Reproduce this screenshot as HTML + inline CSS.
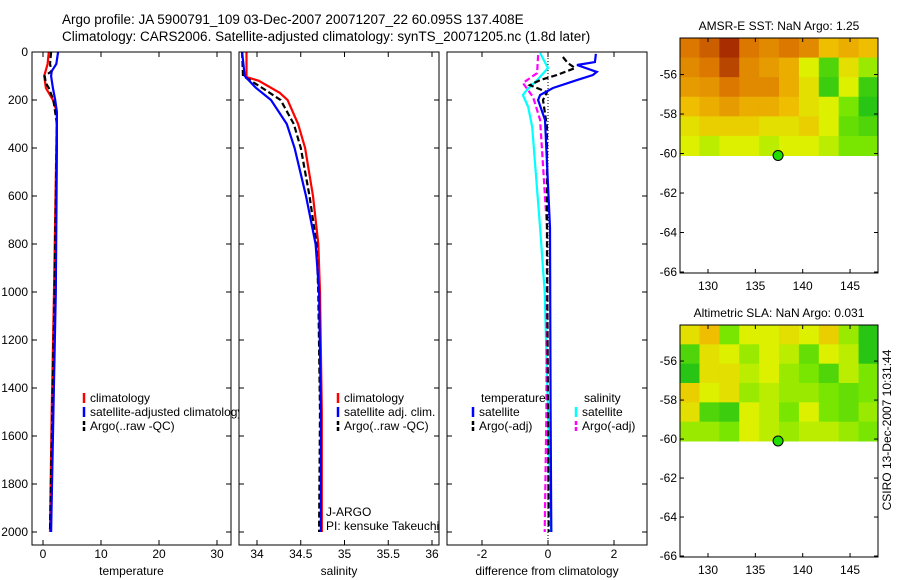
<!DOCTYPE html>
<html><head><meta charset="utf-8"><style>
body{margin:0;background:#fff}
svg{display:block;font-family:"Liberation Sans",sans-serif}
</style></head><body>
<svg id="c" width="900" height="580" viewBox="0 0 900 580" xmlns="http://www.w3.org/2000/svg"></svg>
<script>
// ---- data ----
const depthTicks=[0,200,400,600,800,1000,1200,1400,1600,1800,2000];
const tempTicks=[0,10,20,30];
const salTicks=[34,34.5,35,35.5,36];
const salTickLabels=["34","34.5","35","35.5","36"];
const diffTicks=[-2,0,2];
const tClimD=[0,50,100,150,200,250,400,1000,1500,2000];
const tClimV=[1.0,0.8,0.2,0.5,1.7,2.4,2.3,1.9,1.5,1.2];
const tSatD=[0,50,80,100,150,200,250,400,1000,1500,2000];
const tSatV=[2.6,2.3,1.5,1.4,1.7,2.1,2.4,2.4,2.2,1.8,1.4];
const tArgD=[0,50,80,100,130,150,200,300,1000,1500,2000];
const tArgV=[1.4,1.2,1.5,0.3,0.5,1.0,1.8,2.4,2.0,1.6,1.2];
const sClimD=[0,104,120,170,200,300,400,600,800,1000,1500,2000];
const sClimV=[33.88,33.88,34.02,34.26,34.35,34.47,34.55,34.64,34.70,34.72,34.74,34.74];
const sSatD=[0,100,150,200,300,400,600,800,1000,1500,2000];
const sSatV=[33.83,33.86,33.99,34.16,34.34,34.43,34.56,34.67,34.71,34.73,34.73];
const sArgD=[0,100,150,200,300,400,600,800,1000,1500,2000];
const sArgV=[33.83,33.84,34.06,34.27,34.42,34.50,34.60,34.68,34.70,34.72,34.71];
const dTSatD=[8,42,54,83,96,117,150,179,200,283,733,1500,2000];
const dTSatV=[1.45,1.42,0.88,1.48,1.36,0.88,0.15,-0.24,-0.3,-0.09,0.06,0.08,0.1];
const dTArgD=[21,46,67,96,117,138,167,200,313,733,1500,2000];
const dTArgV=[0.45,0.6,0.82,0.27,-0.24,-0.55,-0.03,-0.15,-0.03,-0.03,0.0,0.02];
const dSSatD=[4,67,117,158,179,229,313,733,1000,1500,2000];
const dSSatV=[-0.24,0,-0.33,-0.64,-0.76,-0.6,-0.48,-0.24,-0.1,0.0,0.1];
const dSArgD=[13,88,129,188,283,733,1500,2000];
const dSArgV=[-0.3,-0.33,-0.76,-0.45,-0.24,-0.03,-0.05,-0.1];
const latTicks=[-56,-58,-60,-62,-64,-66];
const lonTicks=[130,135,140,145];
const argoLon=137.4, argoLat=-60.1;
const sstGrid=[
[0.8,0.85,0.95,0.8,0.75,0.8,0.75,0.6,0.65,0.6],
[0.75,0.8,0.9,0.75,0.7,0.65,0.45,0.2,0.5,0.35],
[0.7,0.72,0.8,0.75,0.75,0.65,0.5,0.15,0.45,0.15],
[0.6,0.65,0.7,0.65,0.65,0.6,0.5,0.45,0.3,0.1],
[0.5,0.55,0.55,0.55,0.5,0.5,0.55,0.45,0.25,0.2],
[0.45,0.4,0.45,0.45,0.4,0.45,0.45,0.4,0.3,0.3]];
const slaGrid=[
[0.5,0.6,0.3,0.45,0.45,0.5,0.45,0.55,0.35,0.1],
[0.2,0.5,0.45,0.35,0.45,0.4,0.25,0.45,0.4,0.1],
[0.1,0.5,0.5,0.4,0.45,0.35,0.3,0.2,0.4,0.3],
[0.55,0.45,0.5,0.35,0.4,0.35,0.35,0.3,0.25,0.3],
[0.5,0.2,0.15,0.45,0.4,0.3,0.45,0.3,0.25,0.35],
[0.35,0.35,0.3,0.45,0.4,0.35,0.4,0.4,0.35,0.3]];
const gridLon0=127, gridLon1=148, gridLat0=-54.15, gridLat1=-60.1;

// ---- helpers ----
const svg=document.getElementById('c');const NS='http://www.w3.org/2000/svg';
function mk(tag,at,parent){const e=document.createElementNS(NS,tag);for(const k in at)e.setAttribute(k,at[k]);(parent||svg).appendChild(e);return e;}
function txt(x,y,s,anchor,size,parent){const t=mk('text',{x:x,y:y,'font-size':size||12,'text-anchor':anchor||'start',fill:'#000'},parent);t.textContent=s;return t;}
const Y=d=>52+d*0.24;
const plotTop=52,plotBot=545;

function panel(name,x0,x1,xs,ticks,labels,xlabel,showY){
  const g=mk('g',{});
  
  
  mk('rect',{x:x0,y:plotTop,width:x1-x0,height:plotBot-plotTop,fill:'#fff',stroke:'none'},g);
  ticks.forEach((v,i)=>{const x=xs(v);
    mk('line',{x1:x,x2:x,y1:plotBot,y2:plotBot-5,stroke:'#000'},g);
    mk('line',{x1:x,x2:x,y1:plotTop,y2:plotTop+5,stroke:'#000'},g);
    const t=txt(x,558,labels[i],'middle',12,g);
    
    
  });
  depthTicks.forEach(d=>{const y=Y(d);
    mk('line',{x1:x0,x2:x0+5,y1:y,y2:y,stroke:'#000'},g);
    mk('line',{x1:x1,x2:x1-5,y1:y,y2:y,stroke:'#000'},g);
    if(showY){const t=txt(x0-4,y+4,String(d),'end',12,g);
      
      }
  });
  const xl=txt((x0+x1)/2,575,xlabel,'middle',12,g);
  
  
  return g;
}
function line(g,name,D,V,xs,color,dash,w){
  const pts=D.map((d,i)=>xs(V[i]).toFixed(1)+','+Y(d).toFixed(1)).join(' ');
  const p=mk('polyline',{points:pts,fill:'none',stroke:color,'stroke-width':w||2.2,'stroke-dasharray':dash||'none'},g);
  
  
}
function frame(g,x0,x1){mk('rect',{x:x0,y:plotTop,width:x1-x0,height:plotBot-plotTop,fill:'none',stroke:'#000'},g);}
function legend(g,x,y,color,label,dash){
  const b=mk('line',{x1:x,x2:x,y1:y-9,y2:y+1,stroke:color,'stroke-width':2.5,'stroke-dasharray':dash||'none'},g);
  
  
  const t=txt(x+6,y,label,'start',12,g);
  
  
}

// titles
const t1=txt(62,24,'Argo profile: JA 5900791_109 03-Dec-2007 20071207_22 60.095S 137.408E','start',13.5);


const t2=txt(62,41,'Climatology: CARS2006. Satellite-adjusted climatology: synTS_20071205.nc (1.8d later)','start',13.5);



// panel 1 temperature
const xT=v=>43+v*5.8;
const g1=panel('temperature-panel',32,231,xT,tempTicks,tempTicks.map(String),'temperature',true);
line(g1,'temp-climatology-line',tClimD,tClimV,xT,'#f00');
line(g1,'temp-argo-line',tArgD,tArgV,xT,'#000','6,3');
line(g1,'temp-satellite-line',tSatD,tSatV,xT,'#00f');
legend(g1,84,402,'#f00','climatology');
legend(g1,84,416,'#00f','satellite-adjusted climatology');
legend(g1,84,430,'#000','Argo(..raw -QC)','4,2');
frame(g1,32,231);

// panel 2 salinity
const xS=v=>257+(v-34)*87.5;
const g2=panel('salinity-panel',239,439,xS,salTicks,salTickLabels,'salinity',false);
line(g2,'sal-climatology-line',sClimD,sClimV,xS,'#f00');
line(g2,'sal-argo-line',sArgD,sArgV,xS,'#000','6,3');
line(g2,'sal-satellite-line',sSatD,sSatV,xS,'#00f');
legend(g2,338,402,'#f00','climatology');
legend(g2,338,416,'#00f','satellite adj. clim.');
legend(g2,338,430,'#000','Argo(..raw -QC)','4,2');
const a1=txt(326,516,'J-ARGO','start',12,g2);
const a2=txt(326,530,'PI: kensuke Takeuchi','start',12,g2);
frame(g2,239,439);

// panel 3 difference
const xD=v=>548+v*33;
const g3=panel('difference-panel',447,647,xD,diffTicks,diffTicks.map(String),'difference from climatology',false);
const z=mk('line',{x1:xD(0),x2:xD(0),y1:plotTop,y2:plotBot,stroke:'#000','stroke-dasharray':'1,2'},g3);

line(g3,'diff-sal-satellite-line',dSSatD,dSSatV,xD,'#0ff');
line(g3,'diff-sal-argo-line',dSArgD,dSArgV,xD,'#f0f','6,3');
line(g3,'diff-temp-argo-line',dTArgD,dTArgV,xD,'#000','6,3');
line(g3,'diff-temp-satellite-line',dTSatD,dTSatV,xD,'#00f');
const lt=txt(481,402,'temperature','start',12,g3);
const ls=txt(584,402,'salinity','start',12,g3);
legend(g3,473,416,'#00f','satellite');
legend(g3,473,430,'#000','Argo(-adj)','4,2');
legend(g3,576,416,'#0ff','satellite');
legend(g3,576,430,'#f0f','Argo(-adj)','4,2');
frame(g3,447,647);

// maps
function col(v){
  const stops=[[0,[0,180,30]],[0.3,[120,230,0]],[0.45,[220,240,0]],[0.6,[240,190,0]],[0.8,[220,120,0]],[1,[150,20,0]]];
  for(let i=1;i<stops.length;i++){if(v<=stops[i][0]){const a=stops[i-1],b=stops[i],t=(v-a[0])/(b[0]-a[0]);
    return 'rgb('+a[1].map((c,j)=>Math.round(c+(b[1][j]-c)*t)).join(',')+')';}}
  return 'rgb(150,20,0)';
}
function map(name,title,top,bottom,grid){
  const g=mk('g',{});
  
  
  const x0=680,x1=878;
  const lat0=-54.15,lat1=-66.05;
  const pxPerDeg=(bottom-top)/(lat0-lat1);
  const LX=l=>708+(l-130)*9.47;
  const LY=l=>top+(lat0-l)*pxPerDeg;
  const rows=grid.length,cols=grid[0].length;
  const dlon=(gridLon1-gridLon0)/cols,dlat=(gridLat0-gridLat1)/rows;
  grid.forEach((r,i)=>r.forEach((v,j)=>{
    const xa=Math.max(x0,LX(gridLon0+j*dlon)),xb=Math.min(x1,LX(gridLon0+(j+1)*dlon));
    const ya=Math.max(top,LY(gridLat0-i*dlat)),yb=LY(gridLat0-(i+1)*dlat);
    const c=mk('rect',{x:xa,y:ya,width:xb-xa+0.5,height:yb-ya+0.5,fill:col(v)},g);
    
    
  }));
  mk('rect',{x:x0,y:top,width:x1-x0,height:bottom-top,fill:'none',stroke:'#000'},g);
  latTicks.forEach(l=>{const y=LY(l);
    mk('line',{x1:x0,x2:x0+4,y1:y,y2:y,stroke:'#000'},g);
    mk('line',{x1:x1,x2:x1-4,y1:y,y2:y,stroke:'#000'},g);
    const t=txt(x0-3,y+4,String(l),'end',12,g);
    });
  lonTicks.forEach(l=>{const x=LX(l);
    mk('line',{x1:x,x2:x,y1:bottom,y2:bottom-4,stroke:'#000'},g);
    mk('line',{x1:x,x2:x,y1:top,y2:top+4,stroke:'#000'},g);
    const t=txt(x,bottom+17,String(l),'middle',12,g);
    });
  const tt=txt(779,top-8,title,'middle',12,g);
  
  const m=mk('circle',{cx:LX(argoLon),cy:LY(argoLat),r:5,fill:'#22dd00',stroke:'#000'},g);
  
}
map('sst-map','AMSR-E SST: NaN Argo: 1.25',38,273,sstGrid);
map('sla-map','Altimetric SLA: NaN Argo: 0.031',325,557,slaGrid);
const cs=txt(0,0,'CSIRO 13-Dec-2007 10:31:44','middle',12);
cs.setAttribute('transform','translate(891,430) rotate(-90)');


</script>
</body></html>
